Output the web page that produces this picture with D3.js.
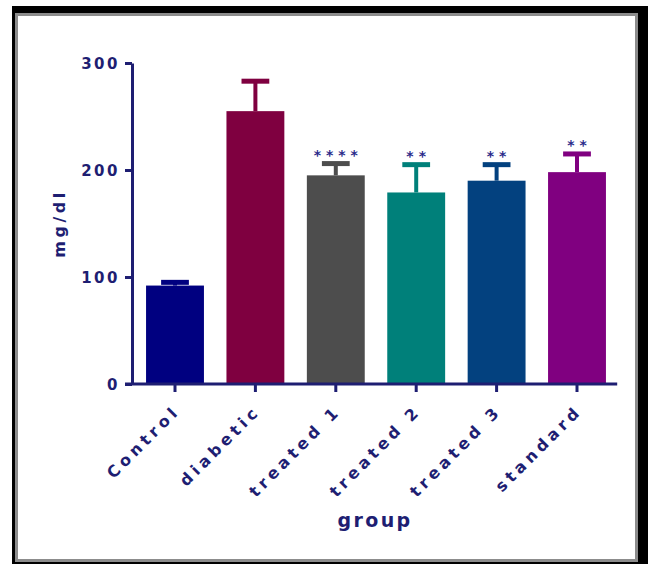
<!DOCTYPE html>
<html>
<head>
<meta charset="utf-8">
<script src="https://cdnjs.cloudflare.com/ajax/libs/d3/7.8.5/d3.min.js"></script>
<style>
  html, body { margin: 0; padding: 0; background: #ffffff; }
  svg { display: block; }
  text { font-family: "DejaVu Sans", sans-serif; font-weight: bold; fill: #1e1e72; }
</style>
</head>
<body>
<svg id="chart" width="651" height="564"></svg>
<script>
// Blood glucose (mg/dl) per treatment group, mean with upper SEM bar
const categories = ["Control", "diabetic", "treated 1", "treated 2", "treated 3", "standard"];
const means = [92, 255, 195, 179, 190, 198];
const errors = [3, 28, 11, 26, 15, 17];
const significance = ["", "", "****", "**", "**", "**"];
const barColors = ["#000080", "#7f0040", "#4d4d4d", "#00807a", "#03417f", "#800080"];
const yTicks = [0, 100, 200, 300];
const yTitle = "mg/dl";
const xTitle = "group";

const ink = "#1e1e72";
const svg = d3.select("#chart");

// Framed panel: black outer border, grey bevel line, white interior
svg.append("rect").attr("x", 12).attr("y", 6).attr("width", 636).attr("height", 570).attr("fill", "#000");
svg.append("rect").attr("x", 15).attr("y", 13).attr("width", 623).attr("height", 549).attr("fill", "#8c8c8c");
svg.append("rect").attr("x", 18).attr("y", 16).attr("width", 617).attr("height", 543).attr("fill", "#fff");

const axisX = 132;
const y = d3.scaleLinear().domain([0, 300]).range([384, 63]);
const x = d3.scaleBand().domain(categories).range([134.8, 617.2]).paddingInner(0.28).paddingOuter(0.14);

const tickLen = 7;

// Bars
const g = svg.append("g");
g.selectAll("rect.bar")
  .data(categories)
  .join("rect")
  .attr("class", "bar")
  .attr("x", d => x(d))
  .attr("width", x.bandwidth())
  .attr("y", (d, i) => y(means[i]))
  .attr("height", (d, i) => y(0) - y(means[i]))
  .attr("fill", (d, i) => barColors[i]);

// Upper error bars
const capW = x.bandwidth() * 0.48;
categories.forEach((c, i) => {
  const cx = x(c) + x.bandwidth() / 2;
  g.append("line")
    .attr("x1", cx).attr("x2", cx)
    .attr("y1", y(means[i])).attr("y2", y(means[i] + errors[i]))
    .attr("stroke", barColors[i]).attr("stroke-width", 4);
  g.append("line")
    .attr("x1", cx - capW / 2).attr("x2", cx + capW / 2)
    .attr("y1", y(means[i] + errors[i])).attr("y2", y(means[i] + errors[i]))
    .attr("stroke", barColors[i]).attr("stroke-width", 5);
});

// Significance marks above the error bars
const starSpacing = 5;
categories.forEach((c, i) => {
  if (!significance[i]) return;
  const cx = x(c) + x.bandwidth() / 2;
  g.append("text")
    .attr("x", cx + starSpacing / 2)
    .attr("y", y(means[i] + errors[i]) - 4)
    .attr("text-anchor", "middle")
    .attr("font-size", 14)
    .attr("letter-spacing", starSpacing)
    .style("fill", "#2a2a8a")
    .text(significance[i]);
});

// Y axis
const yAxis = svg.append("g")
  .attr("transform", `translate(${axisX},0)`)
  .call(d3.axisLeft(y).tickValues(yTicks).tickSize(tickLen).tickSizeOuter(0).tickPadding(5));
yAxis.select(".domain").attr("stroke", ink).attr("stroke-width", 3);
yAxis.selectAll(".tick line").attr("stroke", ink).attr("stroke-width", 3);
yAxis.selectAll(".tick text")
  .attr("font-size", 15)
  .attr("letter-spacing", 2.5)
  .attr("dy", "0.36em")
  .style("font-family", "DejaVu Sans, sans-serif")
  .style("font-weight", "bold")
  .style("fill", ink);

// X axis
const xAxis = svg.append("g")
  .attr("transform", `translate(0,${y(0)})`)
  .call(d3.axisBottom(x).tickSize(8).tickSizeOuter(0));
xAxis.select(".domain").remove();
xAxis.append("line")
  .attr("x1", axisX - tickLen).attr("x2", x.range()[1])
  .attr("y1", 0).attr("y2", 0)
  .attr("stroke", ink).attr("stroke-width", 3);
xAxis.selectAll(".tick line").attr("stroke", ink).attr("stroke-width", 3);
xAxis.selectAll(".tick text")
  .attr("font-size", 16)
  .attr("letter-spacing", 4.2)
  .attr("text-anchor", "end")
  .attr("x", 0).attr("y", 0).attr("dy", 0)
  .attr("transform", "translate(6,28) rotate(-45)")
  .style("font-family", "DejaVu Sans, sans-serif")
  .style("font-weight", "bold")
  .style("fill", ink);

// Axis titles
svg.append("text")
  .attr("transform", `translate(65,${(y(0) + y(300)) / 2}) rotate(-90)`)
  .attr("text-anchor", "middle")
  .attr("font-size", 16)
  .attr("letter-spacing", 3.5)
  .text(yTitle);

svg.append("text")
  .attr("x", 375)
  .attr("y", 527)
  .attr("text-anchor", "middle")
  .attr("font-size", 19)
  .attr("letter-spacing", 2.4)
  .text(xTitle);
</script>
</body>
</html>
